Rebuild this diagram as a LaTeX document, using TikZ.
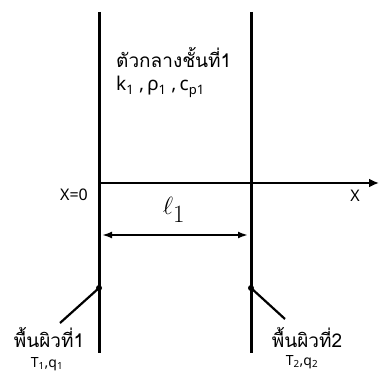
\documentclass[tikz,border=0pt]{standalone}
\usepackage{fontspec}
\setmainfont{Noto Sans}
\newfontfamily\thaifont[Script=Thai]{Loma}
\newfontfamily\grk{Noto Sans}
\usetikzlibrary{arrows.meta}
\newcommand{\lowsub}[1]{\raisebox{-4pt}{\fontsize{13}{13}\selectfont #1}}
\tikzset{
  wall/.style={line width=3pt},
  axisline/.style={line width=2.6pt,-{Latex[length=10pt,width=9pt]}},
  dimline/.style={line width=2pt,{Latex[length=10pt,width=7pt]}-{Latex[length=10pt,width=7pt]}},
  leader/.style={line width=2.2pt},
  lbl/.style={inner sep=0pt,font=\fontsize{16}{18}\selectfont},
  thlbl/.style={inner sep=0pt,font=\thaifont\fontsize{19}{21}\selectfont},
  tqlbl/.style={inner sep=0pt,font=\fontsize{14}{16}\selectfont},
}
\begin{document}
\begin{tikzpicture}[x=1pt,y=-1pt]
\useasboundingbox (0,0) rectangle (380,374);
% walls
\coordinate (L1) at (99,12);
\coordinate (L2) at (99,353);
\coordinate (R1) at (251,12);
\coordinate (R2) at (251,353);
\draw[wall] (L1) -- (L2);
\draw[wall] (R1) -- (R2);
% axis
\coordinate (O) at (99,183);
\coordinate (XE) at (379,183);
\draw[axisline] (O) -- (XE);
% dimension
\coordinate (D1) at (102,235);
\coordinate (D2) at (248,235);
\draw[dimline] (D1) -- (D2);
% surface points
\coordinate (S1) at (99,288);
\coordinate (S2) at (251,288);
\fill (S1) circle (3pt);
\fill (S2) circle (3pt);
\coordinate (E1) at (60,323);
\coordinate (E2) at (285,319);
\draw[leader] (S1) -- (E1);
\draw[leader] (S2) -- (E2);
% texts
\node[thlbl,anchor=base west] (med) at (116,68) {ตัวกลางชั้นที่1};
\node[inner sep=0pt,font=\fontsize{19}{21}\selectfont,anchor=base west] (props) at (116,91) {k\lowsub{1}\;,\,{\grk ρ}\lowsub{1}\;,\,c\lowsub{p1}};
\node[lbl] (x0) at (74,195) {X=0};
\node[lbl] (xl) at (355,196) {X};
\node[inner sep=0pt,font=\fontsize{34}{36}\selectfont] (ell) at (174,210) {$\ell_1$};
\node[thlbl] (s1) at (49,337) {พื้นผิวที่1};
\node[thlbl] (s2) at (307,337) {พื้นผิวที่2};
\node[tqlbl] (tq1) at (47,364) {T\textsubscript{1},q\textsubscript{1}};
\node[tqlbl] (tq2) at (302,362) {T\textsubscript{2},q\textsubscript{2}};
\end{tikzpicture}
\end{document}
